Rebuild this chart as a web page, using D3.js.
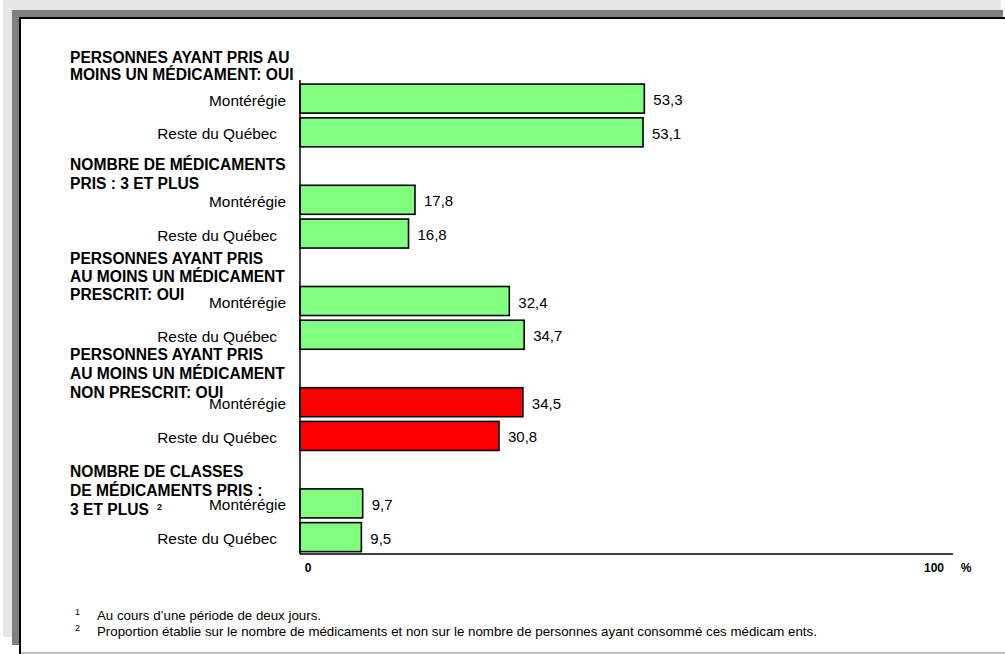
<!DOCTYPE html>
<html>
<head>
<meta charset="utf-8">
<script src="https://cdn.jsdelivr.net/npm/d3@7"></script>
<style>
  body { margin: 0; background: #fff; }
  svg { display: block; font-family: "Liberation Sans", Arial, sans-serif; }
  .hdr { font-weight: bold; font-size: 15.6px; fill: #000; }
  .cat { font-size: 15.4px; fill: #000; }
  .val { font-size: 15px; fill: #000; }
  .foot { font-size: 13.3px; fill: #000; }
  .tick { font-size: 12px; font-weight: bold; fill: #000; }
</style>
</head>
<body>
<svg width="1005" height="654"></svg>
<script>
// groups (header lines), regions, values
const groupHeaders = [
  ["PERSONNES AYANT PRIS AU", "MOINS UN MÉDICAMENT: OUI"],
  ["NOMBRE DE MÉDICAMENTS", "PRIS : 3 ET PLUS"],
  ["PERSONNES AYANT PRIS", "AU MOINS UN MÉDICAMENT", "PRESCRIT: OUI"],
  ["PERSONNES AYANT PRIS", "AU MOINS UN MÉDICAMENT", "NON PRESCRIT: OUI"],
  ["NOMBRE DE CLASSES", "DE MÉDICAMENTS PRIS :", "3 ET PLUS"]
]
const regions = ["Montérégie", "Reste du Québec"]
const monteregie = [53.3, 17.8, 32.4, 34.5, 9.7]
const resteQuebec = [53.1, 16.8, 34.7, 30.8, 9.5]
const xTicks = [0, 100]
const footnotes = [
  ["1", "Au cours d’une période de deux jours."],
  ["2", "Proportion établie sur le nombre de médicaments et non sur le nombre de personnes ayant consommé ces médicam ents."]
]

const svg = d3.select("svg")

// frame: light grey, dark grey shadow, white panel
svg.append("rect").attr("x", 3).attr("y", 0).attr("width", 998).attr("height", 637).attr("fill", "#e6e6e6")
svg.append("rect").attr("x", 12).attr("y", 10).attr("width", 991).attr("height", 635).attr("fill", "#808080")
svg.append("rect").attr("x", 20).attr("y", 18).attr("width", 990).attr("height", 640).attr("fill", "#fff")
svg.append("line").attr("x1", 19).attr("x2", 1005).attr("y1", 18).attr("y2", 18).attr("stroke", "#000").attr("stroke-width", 2)
svg.append("line").attr("x1", 20).attr("x2", 20).attr("y1", 17).attr("y2", 654).attr("stroke", "#000").attr("stroke-width", 2)
svg.append("line").attr("x1", 21).attr("x2", 1005).attr("y1", 653).attr("y2", 653).attr("stroke", "#a8a8a8").attr("stroke-width", 1.5)

// rows: each group = header slot + 2 bars
const rows = []
groupHeaders.forEach((h, g) => {
  rows.push({type: "header", g: g, id: "h" + g})
  rows.push({type: "bar", g: g, r: 0, region: regions[0], value: monteregie[g], id: g + "-0"})
  rows.push({type: "bar", g: g, r: 1, region: regions[1], value: resteQuebec[g], id: g + "-1"})
})

const x = d3.scaleLinear().domain([0, 100]).range([300, 946])
const y = d3.scaleBand().domain(rows.map(d => d.id)).range([48, 554])
  .paddingInner(0.14).paddingOuter(0.07)

const fmt = v => d3.format(".1f")(v).replace(".", ",")

const bars = rows.filter(d => d.type === "bar")

svg.append("g").selectAll("rect")
  .data(bars).enter()
  .append("rect")
  .attr("x", x(0))
  .attr("y", d => y(d.id))
  .attr("width", d => x(d.value) - x(0))
  .attr("height", y.bandwidth())
  .attr("fill", d => d.g === 3 ? "#ff0000" : "#80ff80")
  .attr("stroke", "#000")
  .attr("stroke-width", 1.6)

// the two region labels do not end at the same x in the original
const catEnd = [286, 277]
svg.append("g").selectAll("text")
  .data(bars).enter()
  .append("text")
  .attr("class", "cat")
  .attr("x", d => catEnd[d.r])
  .attr("y", d => y(d.id) + y.bandwidth() / 2 + 7)
  .attr("text-anchor", "end")
  .text(d => d.region)

svg.append("g").selectAll("text")
  .data(bars).enter()
  .append("text")
  .attr("class", "val")
  .attr("x", d => x(d.value) + 9)
  .attr("y", d => y(d.id) + y.bandwidth() / 2 + 6.5)
  .text(d => fmt(d.value))

// group headers
const hdrShift = [-2, 4, -3, -8, 7]
const hdrLine = [17.5, 19, 18, 19, 19]
const headers = rows.filter(d => d.type === "header")
const hg = svg.append("g").selectAll("text")
  .data(headers).enter()
  .append("text")
  .attr("class", "hdr")
  .attr("x", 70)
  .attr("y", d => y(d.id) + y.bandwidth() / 2 + hdrShift[d.g])
hg.selectAll("tspan")
  .data(d => groupHeaders[d.g].map(t => ({t: t, g: d.g})))
  .enter().append("tspan")
  .attr("x", 70)
  .attr("dy", (d, i) => i === 0 ? 0 : hdrLine[d.g])
  .text(d => d.t)
// footnote mark on last header
const lastH = headers[headers.length - 1]
svg.append("text")
  .attr("x", 157)
  .attr("y", y(lastH.id) + y.bandwidth() / 2 + hdrShift[4] + 2 * hdrLine[4] - 5)
  .attr("font-size", 9).attr("font-weight", "bold")
  .text("2")

// axes
svg.append("line").attr("x1", x(0)).attr("x2", x(0))
  .attr("y1", 80).attr("y2", 554).attr("stroke", "#000").attr("stroke-width", 1.5)
svg.append("line").attr("x1", x(0)).attr("x2", 953)
  .attr("y1", 554).attr("y2", 554).attr("stroke", "#000").attr("stroke-width", 1.5)
svg.append("g").selectAll("text")
  .data(xTicks).enter()
  .append("text")
  .attr("class", "tick")
  .attr("x", d => d === 0 ? x(d) + 8 : x(d) - 12)
  .attr("y", 572)
  .attr("text-anchor", "middle")
  .text(d => d)
svg.append("text").attr("class", "tick").attr("x", 966).attr("y", 572)
  .attr("text-anchor", "middle").text("%")

// footnotes
const fn = svg.append("g").selectAll("g")
  .data(footnotes).enter()
  .append("g")
  .attr("transform", (d, i) => "translate(0," + (620 + i * 16) + ")")
fn.append("text").attr("x", 75).attr("y", -5).attr("font-size", 9).text(d => d[0])
fn.append("text").attr("class", "foot").attr("x", 97).attr("y", 0).text(d => d[1])
</script>
</body>
</html>
